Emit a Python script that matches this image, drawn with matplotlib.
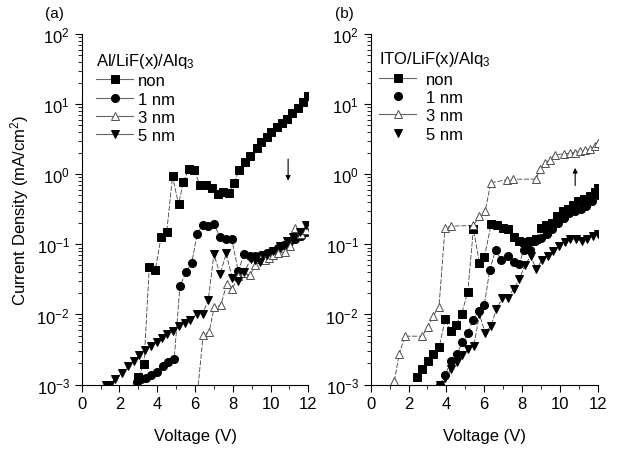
import matplotlib
matplotlib.use("Agg")
import matplotlib.pyplot as plt
from matplotlib.lines import Line2D
from matplotlib.ticker import LogLocator, MultipleLocator
import numpy as np

plt.rcParams['font.family'] = ['Liberation Sans', 'DejaVu Sans']
plt.rcParams['mathtext.fontset'] = 'custom'
plt.rcParams['mathtext.rm'] = 'Liberation Sans'
plt.rcParams['mathtext.it'] = 'Liberation Sans:italic'

# values: voltage (V) and log10 of current density (mA/cm^2)
# panel (a): Al/LiF(x)/Alq3
a_non_v = [3.0, 3.3, 3.58, 3.9, 4.2, 4.5, 4.81, 5.13, 5.38, 5.69, 5.96, 6.26, 6.58, 6.88,
           7.2, 7.49, 7.79, 8.06, 8.34, 8.64, 8.91, 9.26, 9.52, 9.79, 10.05, 10.35, 10.63,
           10.88, 11.15, 11.43, 11.71, 12.0]
a_non_log = [-2.89, -2.70, -1.32, -1.36, -0.90, -0.83, -0.03, -0.43, -0.11, 0.08, 0.06,
             -0.16, -0.16, -0.19, -0.28, -0.25, -0.27, -0.13, 0.06, 0.18, 0.26, 0.37, 0.46,
             0.53, 0.60, 0.67, 0.73, 0.79, 0.87, 0.95, 1.03, 1.12]

a_1nm_v = [2.95, 3.16, 3.4, 3.65, 3.97, 4.29, 4.58, 4.9, 5.2, 5.52, 5.83, 6.12, 6.4, 6.7,
           7.0, 7.32, 7.63, 7.94, 8.29, 8.6, 8.91, 9.2, 9.5, 9.8, 10.1, 10.4, 10.7, 11.0,
           11.3, 11.6, 11.9]
a_1nm_log = [-2.97, -2.92, -2.90, -2.86, -2.82, -2.74, -2.68, -2.63, -1.60, -1.40, -1.26,
             -0.85, -0.72, -0.74, -0.71, -0.89, -0.92, -0.92, -1.38, -1.14, -1.16, -1.17,
             -1.15, -1.13, -1.09, -1.05, -1.01, -0.97, -0.92, -0.88, -0.83]

a_3nm_v = [6.1, 6.43, 6.75, 7.02, 7.37, 7.67, 7.97, 8.3, 8.6, 8.91, 9.2, 9.45, 9.7, 9.9,
           10.15, 10.4, 10.76, 11.02, 11.32, 11.6, 11.9]
a_3nm_log = [-3.2, -2.30, -2.25, -1.89, -1.87, -1.57, -1.64, -1.45, -1.41, -1.44, -1.30,
             -1.21, -1.22, -1.20, -1.15, -1.12, -1.11, -1.02, -0.76, -0.85, -0.80]

a_5nm_v = [1.3, 1.5, 1.76, 2.12, 2.47, 2.77, 3.05, 3.35, 3.65, 3.97, 4.23, 4.53, 4.85, 5.16,
           5.47, 5.73, 6.08, 6.4, 6.7, 7.0, 7.33, 7.65, 7.97, 8.29, 8.6, 8.95, 9.2, 9.45,
           9.8, 10.14, 10.49, 10.85, 11.2, 11.55, 11.9]
a_5nm_log = [-3.0, -3.0, -2.92, -2.84, -2.74, -2.66, -2.58, -2.50, -2.45, -2.39, -2.33,
             -2.28, -2.23, -2.17, -2.12, -2.08, -1.99, -1.99, -1.80, -1.14, -1.43, -1.13,
             -1.48, -1.52, -1.40, -1.21, -1.22, -1.25, -1.15, -1.09, -1.02, -0.95, -0.90,
             -0.83, -0.73]

# panel (b): ITO/LiF(x)/Alq3
b_non_v = [2.43, 2.73, 3.01, 3.31, 3.63, 3.93, 4.23, 4.51, 4.81, 5.13, 5.43, 5.75, 6.01,
           6.37, 6.67, 6.98, 7.28, 7.55, 7.85, 8.13, 8.43, 8.73, 8.99, 9.28, 9.58, 9.84,
           10.14, 10.42, 10.72, 10.98, 11.29, 11.57, 11.87, 12.0]
b_non_log = [-2.89, -2.78, -2.67, -2.56, -2.46, -2.07, -2.23, -2.15, -1.99, -1.68, -0.78,
             -1.27, -1.18, -0.71, -0.72, -0.76, -0.78, -0.89, -0.95, -0.96, -0.95, -0.93,
             -0.77, -0.72, -0.69, -0.60, -0.52, -0.50, -0.44, -0.38, -0.36, -0.31, -0.26,
             -0.20]

b_1nm_v = [3.65, 3.95, 4.25, 4.55, 4.85, 5.15, 5.4, 5.7, 6.0, 6.3, 6.6, 6.9, 7.25, 7.55,
           7.85, 8.1, 8.4, 8.7, 9.0, 9.3, 9.6, 9.9, 10.2, 10.5, 10.8, 11.1, 11.4, 11.7, 12.0]
b_1nm_log = [-3.0, -2.86, -2.66, -2.56, -2.40, -2.27, -2.08, -1.95, -1.87, -1.36, -1.08,
             -1.22, -1.17, -1.25, -1.28, -1.08, -1.08, -0.95, -0.91, -0.85, -0.78, -0.70,
             -0.62, -0.56, -0.53, -0.50, -0.45, -0.38, -0.30]

b_3nm_v = [1.25, 1.51, 1.81, 2.73, 3.01, 3.31, 3.61, 3.93, 4.25, 5.43, 5.75, 6.05, 6.35,
           7.2, 7.5, 8.75, 8.95, 9.22, 9.49, 9.72, 10.23, 10.51, 10.81, 11.07, 11.34, 11.6,
           11.87, 12.0]
b_3nm_log = [-2.95, -2.56, -2.31, -2.31, -2.18, -2.02, -1.89, -0.76, -0.74, -0.73, -0.60,
             -0.53, -0.12, -0.08, -0.07, -0.07, 0.08, 0.16, 0.21, 0.28, 0.29, 0.30, 0.31,
             0.33, 0.34, 0.36, 0.40, 0.44]

b_5nm_v = [3.67, 3.95, 4.25, 4.55, 4.85, 5.16, 5.45, 5.75, 6.05, 6.35, 6.65, 6.95, 7.25,
           7.55, 7.85, 8.15, 8.45, 8.75, 9.05, 9.35, 9.65, 9.95, 10.25, 10.55, 10.85, 11.15,
           11.45, 11.75, 12.0]
b_5nm_log = [-3.0, -2.9, -2.78, -2.68, -2.58, -2.49, -2.45, -2.0, -2.26, -2.17, -1.92,
             -1.77, -1.76, -1.64, -1.50, -1.30, -1.17, -1.35, -1.23, -1.16, -1.10, -1.03,
             -0.96, -0.92, -0.93, -0.95, -0.92, -0.88, -0.85]

labels = ["non", "1 nm", "3 nm", "5 nm"]
markers = ["s", "o", "^", "v"]
faces = ["black", "black", "white", "black"]

fig = plt.figure(figsize=(6.17, 4.52), dpi=100)
ax_a = fig.add_axes([0.1324, 0.147, 0.3673, 0.7755])
ax_b = fig.add_axes([0.6008, 0.147, 0.3679, 0.7755])

panels = [
    (ax_a, [(a_non_v, a_non_log), (a_1nm_v, a_1nm_log), (a_3nm_v, a_3nm_log), (a_5nm_v, a_5nm_log)]),
    (ax_b, [(b_non_v, b_non_log), (b_1nm_v, b_1nm_log), (b_3nm_v, b_3nm_log), (b_5nm_v, b_5nm_log)]),
]

for ax, series in panels:
    for (v, lj), m, fc in zip(series, markers, faces):
        ax.plot(v, 10 ** np.array(lj), linestyle=(0, (6, 2)), color='0.25', lw=0.6,
                marker=m, ms=5.8, mfc=fc, mec='black' if fc == 'black' else '0.3', mew=0.7)
    ax.set_yscale('log')
    ax.set_xlim(0, 12)
    ax.set_ylim(1e-3, 1e2)
    ax.xaxis.set_major_locator(MultipleLocator(2))
    ax.xaxis.set_minor_locator(MultipleLocator(1))
    ax.yaxis.set_major_locator(LogLocator(base=10, numticks=10))
    ax.yaxis.set_minor_locator(LogLocator(base=10, subs=np.arange(2, 10), numticks=10))
    ax.spines['top'].set_visible(False)
    ax.spines['right'].set_visible(False)
    ax.tick_params(which='major', direction='out', length=5, width=0.8, labelsize=12)
    ax.tick_params(which='minor', direction='out', length=3, width=0.6)
    ax.set_xlabel("Voltage (V)", fontsize=12, labelpad=12)

ax_a.set_ylabel("Current Density (mA/cm$^2$)", fontsize=12, labelpad=4)


def legend_handles(with_line):
    hs = []
    for m, fc, wl in zip(markers, faces, with_line):
        hs.append(Line2D([], [], color='0.4', lw=0.8 if wl else 0, marker=m, ms=5.8,
                         mfc=fc, mec='black' if fc == 'black' else '0.3', mew=0.7))
    return hs


leg_a = ax_a.legend(legend_handles([True, True, True, True]), labels,
                    title="Al/LiF(x)/Alq$_3$", loc='upper left', bbox_to_anchor=(0.013, 0.985),
                    frameon=False, fontsize=12, title_fontsize=12, handlelength=2.2,
                    handletextpad=0.3, labelspacing=0.2, borderpad=0.2)
leg_a._legend_box.align = "left"
leg_b = ax_b.legend(legend_handles([True, False, True, False]), labels,
                    title="ITO/LiF(x)/Alq$_3$", loc='upper left', bbox_to_anchor=(-0.013, 0.99),
                    frameon=False, fontsize=12, title_fontsize=12, handlelength=2.2,
                    handletextpad=0.6, labelspacing=0.2, borderpad=0.2)
leg_b._legend_box.align = "left"

# arrows
ax_a.annotate("", xy=(10.93, 0.74), xytext=(10.93, 1.8),
              arrowprops=dict(arrowstyle='-|>', color='black', lw=0.8, mutation_scale=7))
ax_b.annotate("", xy=(10.81, 1.35), xytext=(10.81, 0.63),
              arrowprops=dict(arrowstyle='-|>', color='black', lw=0.8, mutation_scale=7))

fig.text(0.073, 0.968, "(a)", fontsize=11, va='center')
fig.text(0.543, 0.968, "(b)", fontsize=11, va='center')

fig.savefig("out.png", dpi=100)
